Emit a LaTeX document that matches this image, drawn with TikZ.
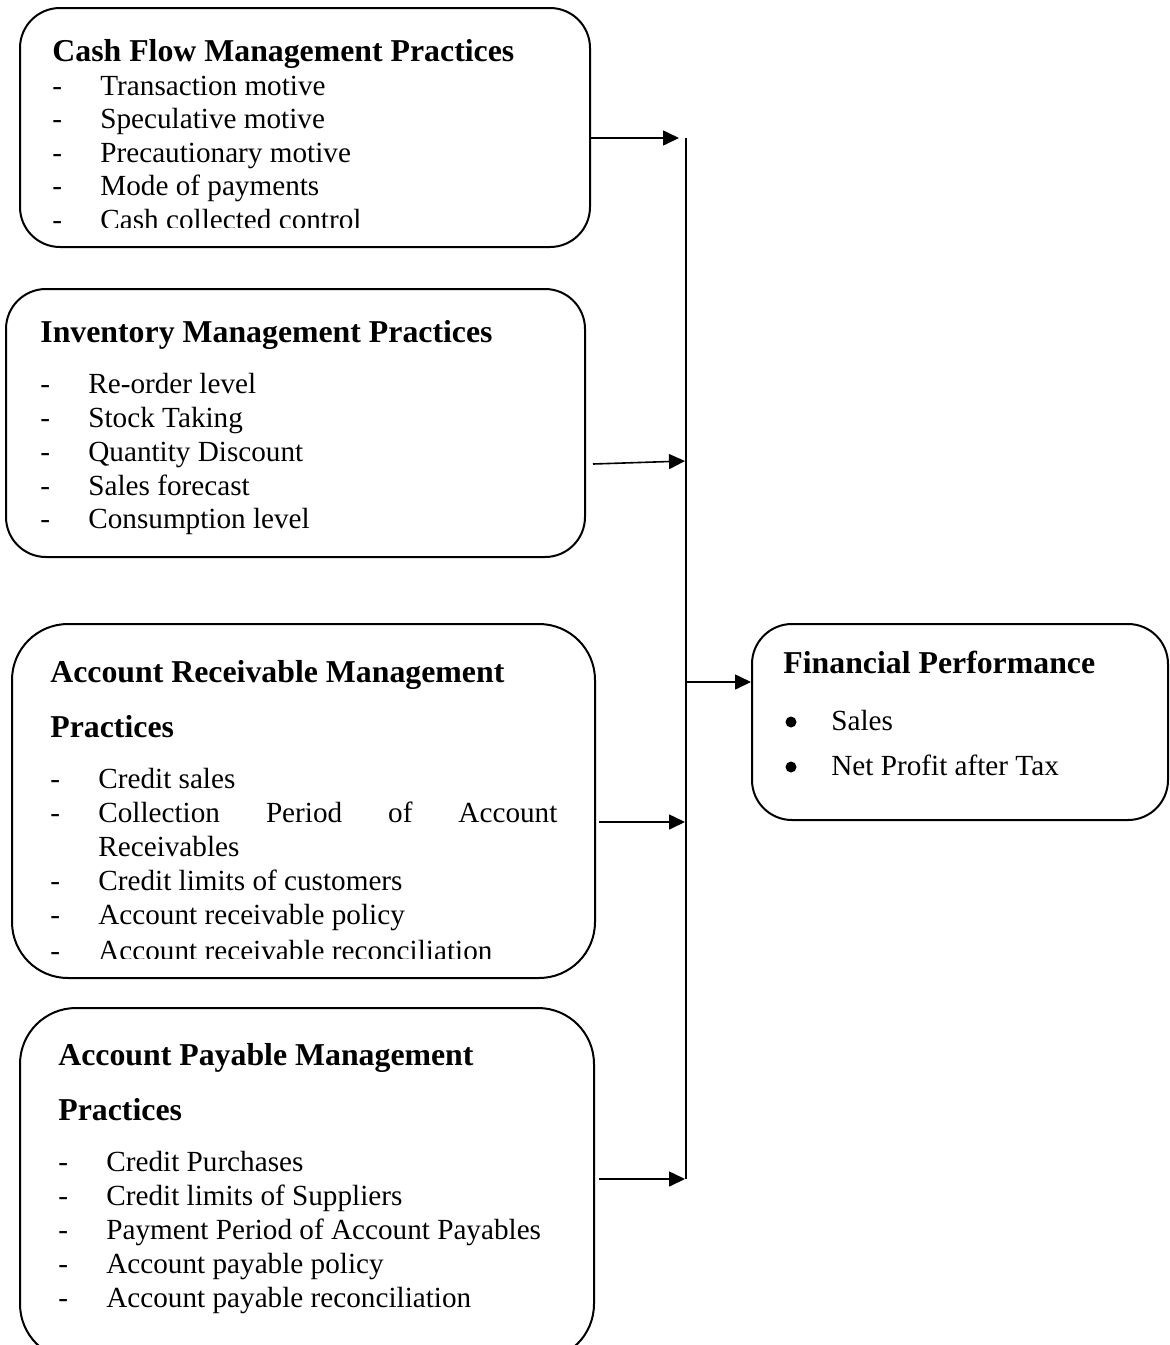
\documentclass[tikz,border=0pt]{standalone}
\usepackage{fontspec}
\setmainfont{Liberation Serif}
\usetikzlibrary{arrows.meta}
\newcommand\ttlfont{\bfseries\fontsize{15.9}{18}\selectfont}
\newcommand\itmfont{\fontsize{14.6}{17}\selectfont}
\newcommand\dsh{\makebox[24pt][l]{-}}
\tikzset{
  box/.style={draw, line width=1pt, inner sep=0pt},
  ttl/.style={anchor=base west, inner sep=0pt, font=\ttlfont},
  itm/.style={anchor=base west, inner sep=0pt, font=\itmfont},
  dot/.style={circle, fill, inner sep=0pt, minimum size=5.5pt},
  arr/.style={line width=0.8pt, -{Triangle[length=8pt,width=7.5pt]}},
  bus/.style={line width=0.8pt}
}
\begin{document}
\begin{tikzpicture}[x=0.5pt,y=-0.5pt]
\useasboundingbox (0,0) rectangle (1170,1345);
% boxes
\node[box, rounded corners=20pt, minimum width=285pt, minimum height=119.5pt] (b1) at (305,127.5) {};
\node[box, rounded corners=20pt, minimum width=289.5pt, minimum height=134pt] (b2) at (295.5,423) {};
\node[box, rounded corners=28pt, minimum width=291.5pt, minimum height=177pt] (b3) at (303.5,801) {};
\node[box, rounded corners=28pt, minimum width=287pt, minimum height=176pt] (b4) at (307,1184) {};
\node[box, rounded corners=20pt, minimum width=208pt, minimum height=98pt] (b5) at (960,722) {};
% box 1 text
\node[ttl] (t1) at (52,61) {Cash Flow Management Practices};
\node[itm] (i11) at (52,95) {\dsh Transaction motive};
\node[itm] (i12) at (52,128) {\dsh Speculative motive};
\node[itm] (i13) at (52,162) {\dsh Precautionary motive};
\node[itm] (i14) at (52,195) {\dsh Mode of payments};
\begin{scope}
\clip (0,0) rectangle (1170,227);
\node[itm] (i15) at (52,229) {\dsh Cash collected control};
\end{scope}
% box 2 text
\node[ttl] (t2) at (40,342) {Inventory Management Practices};
\node[itm] (i21) at (40,393) {\dsh Re-order level};
\node[itm] (i22) at (40,427) {\dsh Stock Taking};
\node[itm] (i23) at (40,461) {\dsh Quantity Discount};
\node[itm] (i24) at (40,495) {\dsh Sales forecast};
\node[itm] (i25) at (40,528) {\dsh Consumption level};
% box 3 text
\node[ttl] (t3a) at (50,682) {Account Receivable Management};
\node[ttl] (t3b) at (50,737) {Practices};
\node[itm] (i31) at (50,788) {\dsh Credit sales};
\node[itm] (i32) at (50,822) {\dsh\makebox[229.5pt][s]{Collection Period of Account}};
\node[itm] (i32b) at (98,856) {Receivables};
\node[itm] (i33) at (50,890) {\dsh Credit limits of customers};
\node[itm] (i34) at (50,924) {\dsh Account receivable policy};
\begin{scope}
\clip (0,0) rectangle (1170,958);
\node[itm] (i35) at (50,960) {\dsh Account receivable reconciliation};
\end{scope}
% box 4 text
\node[ttl] (t4a) at (58,1065) {Account Payable Management};
\node[ttl] (t4b) at (58,1120) {Practices};
\node[itm] (i41) at (58,1171) {\dsh Credit Purchases};
\node[itm] (i42) at (58,1205) {\dsh Credit limits of Suppliers};
\node[itm] (i43) at (58,1239) {\dsh Payment Period of Account Payables};
\node[itm] (i44) at (58,1273) {\dsh Account payable policy};
\node[itm] (i45) at (58,1307) {\dsh Account payable reconciliation};
% box 5 text
\node[ttl] (t5) at (783,673) {Financial Performance};
\node[dot] (p51) at (791,722) {};
\node[itm] (i51) at (831,730) {Sales};
\node[dot] (p52) at (791,767) {};
\node[itm] (i52) at (831,775) {Net Profit after Tax};
% bus and connectors
\coordinate (jtop) at (686,138);
\coordinate (jbot) at (686,1179);
\coordinate (jmid) at (686,682);
\coordinate (e1) at (679,138);
\coordinate (e2) at (685,461);
\coordinate (e4) at (685,822);
\coordinate (e5) at (685,1179);
\draw[bus] (jtop) -- (jbot);
\draw[arr] ([yshift=-5.25pt]b1.east) -- (e1);
\draw[arr] ([xshift=3.5pt,yshift=-20.5pt]b2.east) -- (e2);
\draw[arr] ([xshift=1.5pt,yshift=-10.5pt]b3.east) -- (e4);
\draw[arr] ([xshift=2pt,yshift=2.5pt]b4.east) -- (e5);
\draw[arr] (jmid) -- (b5.west |- jmid);
\end{tikzpicture}
\end{document}
